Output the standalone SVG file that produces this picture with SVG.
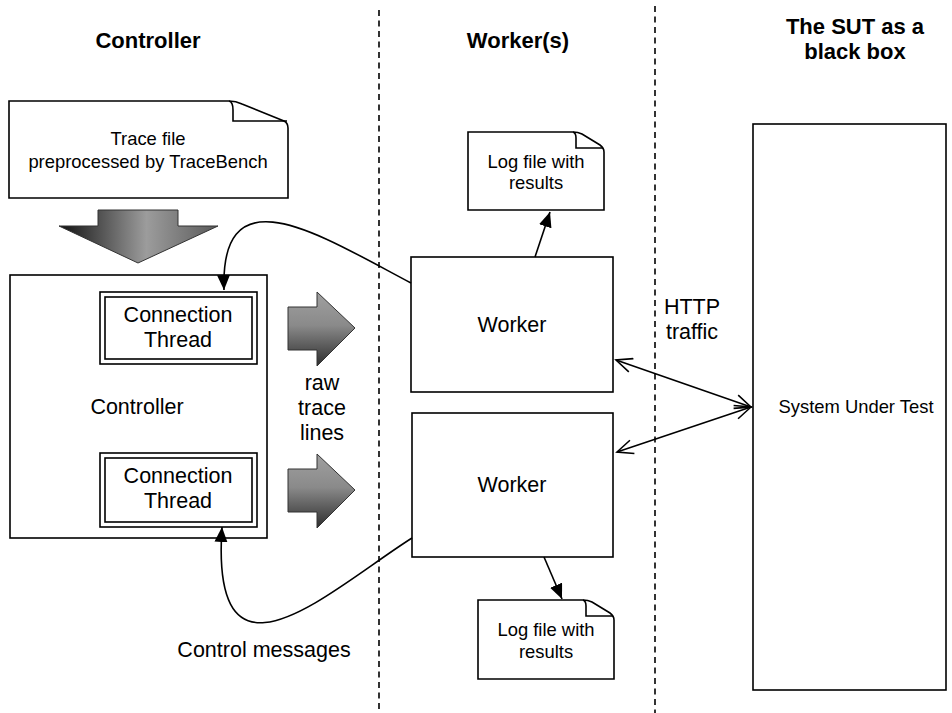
<svg xmlns="http://www.w3.org/2000/svg" width="952" height="713" viewBox="0 0 952 713">
<style>
  text { font-family: "Liberation Sans", Arial, sans-serif; fill: #000; text-anchor: middle; }
  .h { font-weight: bold; font-size: 22px; }
  .t { font-size: 21.5px; }
  .s { font-size: 18.4px; }
  .box { fill: #fff; stroke: #000; stroke-width: 1.6; }
  .ln { fill: none; stroke: #000; stroke-width: 1.6; }
  .dash { fill: none; stroke: #000; stroke-width: 1.6; stroke-dasharray: 6 4.5; }
</style>
<defs>
  <linearGradient id="gDown" x1="0" y1="0" x2="1" y2="0">
    <stop offset="0" stop-color="#111"/>
    <stop offset="0.55" stop-color="#9c9c9c"/>
    <stop offset="1" stop-color="#5a5a5a"/>
  </linearGradient>
  <linearGradient id="gRight" x1="0" y1="0" x2="0" y2="1">
    <stop offset="0" stop-color="#a0a0a0"/>
    <stop offset="0.45" stop-color="#8a8a8a"/>
    <stop offset="1" stop-color="#2e2e2e"/>
  </linearGradient>
  <marker id="fill" markerWidth="16" markerHeight="14" refX="15" refY="6.5" orient="auto" markerUnits="userSpaceOnUse">
    <path d="M0,0 L15,6.5 L0,13 Z" fill="#000"/>
  </marker>
  <marker id="openE" markerWidth="20" markerHeight="18" refX="17" refY="8" orient="auto" markerUnits="userSpaceOnUse">
    <path d="M1,1 L17,8 L1,15" fill="none" stroke="#000" stroke-width="1.6"/>
  </marker>
  <marker id="openS" markerWidth="20" markerHeight="18" refX="2" refY="8" orient="auto" markerUnits="userSpaceOnUse">
    <path d="M18,1 L2,8 L18,15" fill="none" stroke="#000" stroke-width="1.6"/>
  </marker>
</defs>

<!-- swimlane separators and headers -->
<g id="lanes">
  <line class="dash" x1="379" y1="10" x2="379" y2="713"/>
  <line class="dash" x1="655" y1="6" x2="655" y2="713"/>
  <text class="h" x="148" y="48">Controller</text>
  <text class="h" x="518" y="48">Worker(s)</text>
  <text class="h" x="855" y="34">The SUT as a</text>
  <text class="h" x="855" y="59">black box</text>
</g>

<g id="tracefile">
  <path class="box" d="M9,101 L229,101 Q236,101 242,104 L284,121 Q288,123 288,128 L288,198 L9,198 Z"/>
  <path class="ln" d="M229,101 Q233,102 233,110 L233,121 L287,121"/>
  <text class="s" x="148" y="145">Trace file</text>
  <text class="s" x="148" y="168">preprocessed by TraceBench</text>
</g>

<g id="downarrow">
  <path d="M98,210 L178,210 L178,226 L218,226 L138,263 L59,226 L98,226 Z" fill="url(#gDown)" stroke="#333" stroke-width="1"/>
</g>

<g id="controller">
  <rect class="box" x="10" y="275" width="257" height="263"/>
  <text class="t" x="137" y="414">Controller</text>
</g>

<g id="thread1">
  <rect class="box" x="100" y="292" width="157" height="72"/>
  <rect class="box" x="105" y="297" width="147" height="62"/>
  <text class="t" x="178" y="322">Connection</text>
  <text class="t" x="178" y="347">Thread</text>
</g>

<g id="thread2">
  <rect class="box" x="100" y="453" width="157" height="74"/>
  <rect class="box" x="105" y="458" width="147" height="64"/>
  <text class="t" x="178" y="483">Connection</text>
  <text class="t" x="178" y="508">Thread</text>
</g>

<g id="rawarrows">
  <path d="M288,307 L317,307 L317,292 L355,328 L317,366 L317,350 L288,350 Z" fill="url(#gRight)" stroke="#333" stroke-width="1"/>
  <path d="M288,469 L317,469 L317,454 L355,490 L317,528 L317,512 L288,512 Z" fill="url(#gRight)" stroke="#333" stroke-width="1"/>
  <text class="t" x="322" y="390">raw</text>
  <text class="t" x="322" y="415">trace</text>
  <text class="t" x="322" y="440">lines</text>
</g>

<g id="worker1">
  <rect class="box" x="411" y="257" width="202" height="135"/>
  <text class="t" x="512" y="332">Worker</text>
</g>

<g id="worker2">
  <rect class="box" x="412" y="413" width="201" height="144"/>
  <text class="t" x="512" y="492">Worker</text>
</g>

<g id="log1">
  <path class="box" d="M468,132 L573,132 Q578,132 582,134 L600,145 Q604,148 604,152 L604,210 L468,210 Z"/>
  <path class="ln" d="M573,132 Q576,133 576,138 L576,148 L603,148"/>
  <text class="s" x="536" y="168">Log file with</text>
  <text class="s" x="536" y="189">results</text>
</g>

<g id="log2">
  <path class="box" d="M478,600 L583,600 Q588,600 592,602 L610,613 Q614,616 614,620 L614,679 L478,679 Z"/>
  <path class="ln" d="M583,600 Q586,601 586,606 L586,616 L613,616"/>
  <text class="s" x="546" y="636">Log file with</text>
  <text class="s" x="546" y="658">results</text>
</g>

<g id="sut">
  <rect class="box" x="753" y="124" width="193" height="566"/>
  <text class="s" x="856" y="413">System Under Test</text>
</g>

<g id="connectors">
  <path class="ln" d="M411,283 C320,235 220,170 224,290" marker-end="url(#fill)"/>
  <path class="ln" d="M412,538 C330,590 210,705 222,527" marker-end="url(#fill)"/>
  <line class="ln" x1="535" y1="257" x2="550" y2="212" marker-end="url(#fill)"/>
  <line class="ln" x1="544" y1="557" x2="562" y2="599" marker-end="url(#fill)"/>
  <line class="ln" x1="616" y1="360" x2="751" y2="407" marker-start="url(#openS)" marker-end="url(#openE)"/>
  <line class="ln" x1="617" y1="452" x2="751" y2="407" marker-start="url(#openS)" marker-end="url(#openE)"/>
  <text class="t" x="692" y="314">HTTP</text>
  <text class="t" x="692" y="339">traffic</text>
  <text class="t" x="264" y="657">Control messages</text>
</g>
</svg>
